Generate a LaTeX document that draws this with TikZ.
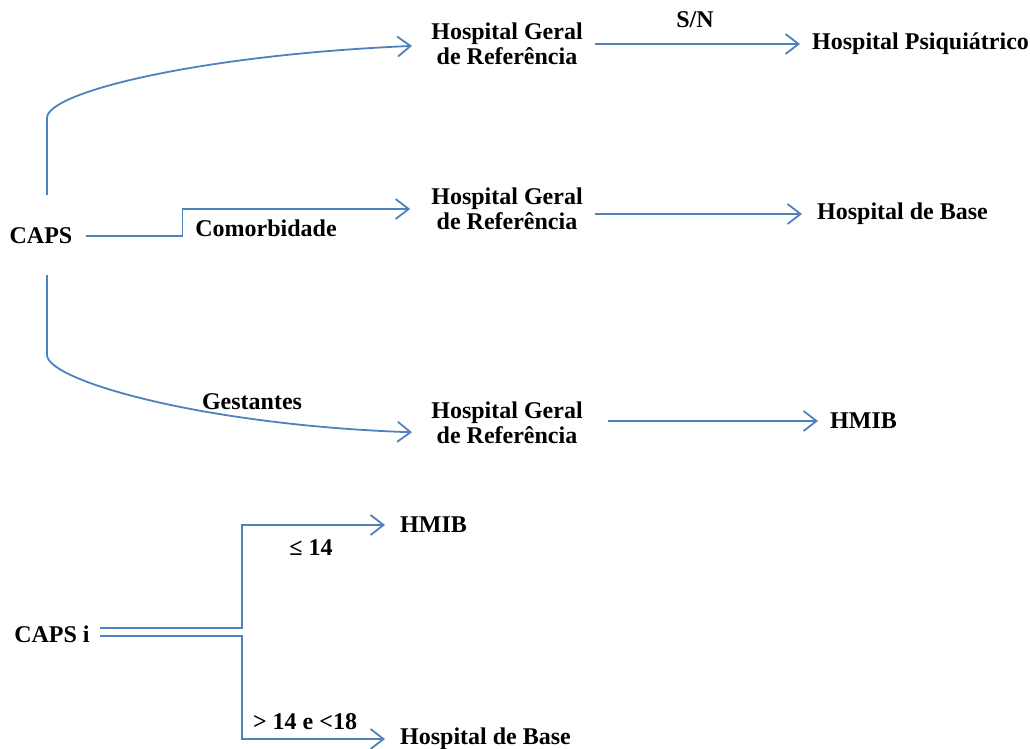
\documentclass[tikz,border=0pt]{standalone}
\usepackage{fontspec}
\setmainfont{Liberation Serif}
\usetikzlibrary{calc,arrows.meta}
\definecolor{linkBlue}{RGB}{79,129,189}
\tikzset{
  lbl/.style={font=\bfseries\fontsize{24}{25}\selectfont,inner sep=0pt,align=center},
  plainline/.style={draw=linkBlue,line width=1.8pt},
  link/.style={plainline,-{Straight Barb[length=13pt,width=20pt,line width=1.8pt]}}
}

\begin{document}
\begin{tikzpicture}[x=1pt,y=-1pt]
\useasboundingbox (0,0) rectangle (1030,748);
\node[lbl] (caps) at (41,236) {CAPS};
\node[lbl] (hgr1) at (507,44) {Hospital Geral\\de Referência};
\node[lbl] (hgr2) at (507,209) {Hospital Geral\\de Referência};
\node[lbl] (hgr3) at (507,423) {Hospital Geral\\de Referência};
\node[lbl,anchor=west] (psiq) at (812,44) {Hospital Psiquiátrico};
\node[lbl,anchor=west] (base1) at (817,214) {Hospital de Base};
\node[lbl,anchor=west] (hmib1) at (830,421) {HMIB};
\node[lbl] (capsi) at (52,634) {CAPS i};
\node[lbl,anchor=west] (hmib2) at (400,525) {HMIB};
\node[lbl,anchor=west] (base2) at (400,739) {Hospital de Base};
\node[lbl] (comorb) at (266,228) {Comorbidade};
\node[lbl] (gest) at (252,402) {Gestantes};
\node[lbl] (sn) at (695,20) {S/N};
\node[lbl] (menor) at (311,548) {≤ 14};
\node[lbl] (faixa) at (305,722) {> 14 e <18};
\coordinate (capsTop) at (47,195);
\coordinate (capsBot) at (47,275);
\coordinate (endTop) at (433,45);
\coordinate (endBot) at (433,433);
\draw[link,shorten >=21pt] (capsTop) -- (47,118) .. controls (47,92) and (200,55) .. (endTop);
\draw[link,shorten <=13pt,shorten >=21pt] (caps.east) -- ++(110,0) |- (hgr2.west);
\draw[link,shorten >=21pt] (capsBot) -- (47,355) .. controls (47,380) and (200,425) .. (endBot);
\draw[link,shorten <=12pt,shorten >=12pt] (hgr1.east) -- (psiq.west);
\draw[link,shorten <=12pt,shorten >=15pt] (hgr2.east |- base1.west) -- (base1.west);
\draw[link,shorten <=25pt,shorten >=12pt] (hgr3.east |- hmib1.west) -- (hmib1.west);
\draw[link,shorten >=15pt] ($(capsi.east)+(10,-6)$) -- ++(142,0) |- (hmib2.west);
\draw[link,shorten >=15pt] ($(capsi.east)+(10,2)$) -- ++(142,0) |- (base2.west);
\end{tikzpicture}
\end{document}
